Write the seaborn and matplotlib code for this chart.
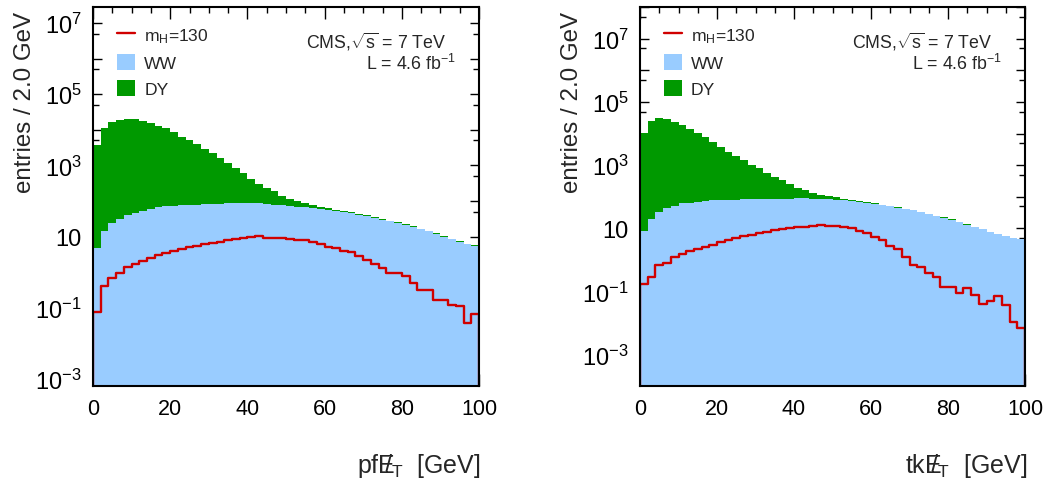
import numpy as np
import pandas as pd
import matplotlib
matplotlib.use("Agg")
import matplotlib.pyplot as plt
import seaborn as sns
from matplotlib.ticker import LogLocator, MultipleLocator, FuncFormatter, NullFormatter
from matplotlib.lines import Line2D
from matplotlib.patches import Patch

# ---------------- data (entries per 2 GeV bin, 0..100 GeV) ----------------
bin_width = 2.0
x_range = (0.0, 100.0)
bin_centers = np.arange(1.0, 100.0, 2.0)

pf_dy = [3800, 10950, 16200, 18600, 19460, 19450, 17320, 15430, 12820, 10890,
         8440, 6380, 5050, 3810, 2800, 2100, 1500, 1063, 786, 546,
         332, 224, 153, 107, 65, 45, 31, 21, 13, 9,
         7, 5, 4, 3, 2.5, 2, 1.5, 1.2, 1.0, 0.8,
         0.6, 0.5, 0.4, 0.3, 0.25, 0.2, 0.15, 0.12, 0.1, 0.08]
pf_ww = [4.8, 14.8, 23.4, 30.9, 39.8, 45.7, 53.7, 60.3, 66.1, 70.8,
         74.1, 75.9, 77.6, 79.4, 81.3, 83.2, 83.2, 85.1, 85.1, 85.1,
         85.1, 85.1, 81.3, 79.4, 75.9, 72.4, 69.2, 66.1, 63.1, 58.9,
         55.0, 51.3, 49.0, 44.7, 40.7, 38.0, 33.9, 30.2, 26.9, 24.5,
         21.4, 19.1, 16.2, 14.1, 12.0, 10.0, 8.5, 7.2, 6.3, 5.6]
pf_h130 = [0.074, 0.41, 0.71, 0.98, 1.38, 1.74, 2.04, 2.45, 2.95, 3.39,
           3.98, 4.37, 5.01, 5.62, 6.03, 6.61, 7.24, 7.94, 8.51, 9.12,
           9.55, 10.2, 9.12, 9.33, 9.12, 8.51, 7.94, 7.94, 7.24, 6.03,
           5.01, 4.68, 3.89, 3.63, 2.82, 2.19, 1.70, 1.29, 0.93, 0.95,
           0.76, 0.50, 0.32, 0.32, 0.17, 0.17, 0.12, 0.11, 0.037, 0.068]

tk_dy = [10460, 25680, 31590, 29470, 23940, 18990, 14060, 10400, 7510, 5420,
         3720, 2610, 1870, 1360, 964, 709, 465, 340, 244, 164,
         106, 81, 48, 32, 22, 14, 7.5, 5.3, 3.2, 3.0,
         2.8, 2.0, 1.5, 1.2, 1.0, 0.8, 0.6, 0.5, 0.4, 0.3,
         0.25, 0.2, 0.15, 0.12, 0.1, 0.08, 0.06, 0.05, 0.04, 0.03]
tk_ww = [8.3, 19.5, 32.4, 43.7, 52.5, 61.7, 66.1, 70.8, 74.1, 77.6,
         79.4, 81.3, 81.3, 83.2, 83.2, 85.1, 85.1, 87.1, 87.1, 87.1,
         89.1, 89.1, 87.1, 85.1, 83.2, 81.3, 77.6, 74.1, 69.2, 64.6,
         60.3, 55.0, 50.1, 45.7, 41.7, 38.9, 33.1, 28.8, 25.1, 21.9,
         19.1, 16.2, 13.2, 11.2, 9.5, 7.9, 6.8, 5.8, 5.1, 4.6]
tk_h130 = [0.17, 0.29, 0.71, 0.83, 1.29, 1.58, 1.95, 2.24, 2.57, 3.09,
           3.63, 4.37, 5.01, 5.75, 6.17, 6.92, 7.76, 8.71, 9.33, 10.5,
           11.2, 11.5, 11.7, 12.6, 12.3, 11.7, 11.2, 10.2, 8.51, 7.08,
           5.50, 4.37, 2.69, 2.19, 1.29, 0.69, 0.62, 0.38, 0.30, 0.145,
           0.145, 0.093, 0.132, 0.076, 0.042, 0.052, 0.071, 0.039, 0.011, 0.0068]

x_tick_values = [0, 20, 40, 60, 80, 100]
y_label_exponents = [-3, -1, 1, 3, 5, 7]
legend_labels = [r'm$_{\mathrm{H}}$=130', 'WW', 'DY']
process_order = ['DY', 'WW']

BLUE = '#99ccff'
GREEN = '#009900'
RED = '#d00000'

# ---------------- style ----------------
sns.set_style("ticks")
plt.rcParams['font.family'] = ['Liberation Sans', 'DejaVu Sans']
plt.rcParams['mathtext.fontset'] = 'custom'
plt.rcParams['mathtext.rm'] = 'Liberation Sans'
plt.rcParams['mathtext.it'] = 'Liberation Sans:italic'
plt.rcParams['mathtext.bf'] = 'Liberation Sans:bold'
plt.rcParams['mathtext.sf'] = 'Liberation Sans'

fig = plt.figure(figsize=(10.55, 4.81), dpi=100)
W, H = 1055.0, 481.0
ax_left = fig.add_axes([93 / W, (H - 386.7) / H, 386 / W, 378.4 / H])
ax_right = fig.add_axes([640 / W, (H - 386.7) / H, 385 / W, 378.4 / H])


def ylab(v, pos):
    e = int(round(np.log10(v)))
    if e not in y_label_exponents:
        return ''
    if e == 1:
        return '10'
    return r'$10^{%d}$' % e


def draw_panel(ax, dy, ww, sig, ylim, prefix):
    n = len(bin_centers)
    df = pd.DataFrame({
        'met': np.concatenate([bin_centers, bin_centers]),
        'entries': np.concatenate([np.asarray(dy, float), np.asarray(ww, float)]),
        'process': ['DY'] * n + ['WW'] * n,
    })
    sns.histplot(data=df, x='met', weights='entries', hue='process',
                 hue_order=process_order, multiple='stack',
                 binwidth=bin_width, binrange=x_range,
                 element='step', fill=True, alpha=1,
                 palette={'DY': GREEN, 'WW': BLUE}, linewidth=0,
                 legend=False, ax=ax)
    sdf = pd.DataFrame({'met': bin_centers, 'entries': np.asarray(sig, float)})
    sns.histplot(data=sdf, x='met', weights='entries',
                 binwidth=bin_width, binrange=x_range, element='step',
                 fill=True, color=RED, facecolor='none', edgecolor=RED,
                 linewidth=1.7, ax=ax, zorder=2.2)
    ax.set_yscale('log')
    ax.set_xlim(*x_range)
    ax.set_ylim(*ylim)

    ax.set_xticks(x_tick_values)
    ax.xaxis.set_minor_locator(MultipleLocator(5))
    ax.yaxis.set_major_locator(LogLocator(base=10, subs=(1.0,), numticks=30))
    ax.yaxis.set_minor_locator(LogLocator(base=10, subs=(5.0,), numticks=30))
    ax.yaxis.set_major_formatter(FuncFormatter(ylab))
    ax.yaxis.set_minor_formatter(NullFormatter())

    ax.tick_params(axis='both', which='both', direction='in', top=True,
                   right=True, width=1.0, colors='black')
    ax.tick_params(axis='x', which='major', length=8.5, pad=9, labelsize=15.5)
    ax.tick_params(axis='x', which='minor', length=4.5)
    ax.tick_params(axis='y', which='major', length=6.5, pad=8, labelsize=17)
    ax.tick_params(axis='y', which='minor', length=4.0)
    for s in ax.spines.values():
        s.set_linewidth(1.5)
        s.set_color('black')
        s.set_visible(True)
        s.set_zorder(3)

    ax.set_ylabel('entries / 2.0 GeV', fontsize=17.4, loc='top')
    ax.yaxis.set_label_coords(-0.147, 0.99)
    ax.set_xlabel(prefix + r'$\mathrm{E}\!\!\!/_{\mathrm{T}}$  [GeV]',
                  fontsize=18, loc='right')
    ax.xaxis.set_label_coords(1.005, -0.172)

    handles = [Line2D([], [], color=RED, lw=1.7),
               Patch(facecolor=BLUE, edgecolor='none'),
               Patch(facecolor=GREEN, edgecolor='none')]
    ax.legend(handles=handles, labels=legend_labels, loc='upper left',
              bbox_to_anchor=(24 / 386, 1 - 19 / 378), frameon=False,
              fontsize=12.6, handlelength=1.05, handleheight=1.05,
              handletextpad=0.5, labelspacing=0.5, borderpad=0,
              borderaxespad=0)

    ax.text(0.915, 0.912, r'CMS,$\sqrt{\mathrm{s}}$ = 7 TeV',
            transform=ax.transAxes, ha='right', va='center', fontsize=12.8)
    ax.text(0.94, 0.853, r'L = 4.6 fb$^{-1}$',
            transform=ax.transAxes, ha='right', va='center', fontsize=12.8)


draw_panel(ax_left, pf_dy, pf_ww, pf_h130, (6.5e-4, 2.75e7), 'pf')
draw_panel(ax_right, tk_dy, tk_ww, tk_h130, (1.05e-4, 1.0e8), 'tk')

fig.savefig('out.png', dpi=100)
